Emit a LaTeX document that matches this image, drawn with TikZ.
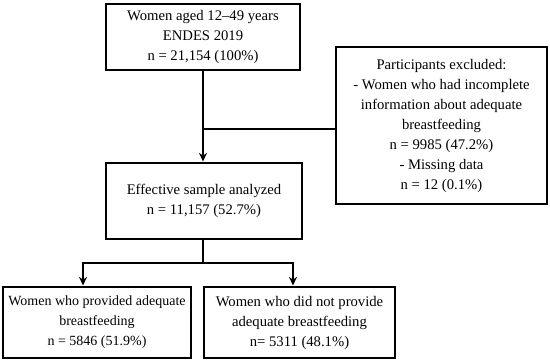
\documentclass[tikz,border=0pt]{standalone}
\usepackage{fontspec}
\setmainfont{Liberation Serif}
\usetikzlibrary{arrows.meta}

\begin{document}
\begin{tikzpicture}[x=0.75pt, y=-0.75pt, line width=1.5pt, >={Stealth[length=6.5pt, width=6pt]},
    box/.style={draw, line width=2.2pt, align=center, inner sep=0pt,
        font=\fontsize{11}{15}\selectfont}]
    \useasboundingbox (0,0) rectangle (550,361);
    \node[box, minimum width=145.5pt, minimum height=49.5pt] (total) at (203,37)
        {Women aged 12--49 years\\ENDES 2019\\n = 21,154 (100\%)};
    \node[box, minimum width=158.25pt, minimum height=117.75pt] (excluded) at (441.5,125.5)
        {Participants excluded:\\- Women who had incomplete\\information about adequate\\breastfeeding\\n = 9985 (47.2\%)\\- Missing data\\n = 12 (0.1\%)};
    \node[box, minimum width=147pt, minimum height=57pt] (sample) at (204,201)
        {Effective sample analyzed\\n = 11,157 (52.7\%)};
    \node[box, minimum width=141pt, minimum height=53.25pt, font=\fontsize{10.5}{15}\selectfont] (adequate) at (97,322.5)
        {Women who provided adequate\\breastfeeding\\n = 5846 (51.9\%)};
    \node[box, minimum width=143.25pt, minimum height=53.25pt] (notadequate) at (299.5,322.5)
        {Women who did not provide\\adequate breastfeeding\\n= 5311 (48.1\%)};
    \coordinate (junction) at (203,129);
    \coordinate (split) at (203,263);
    \draw[->] (total.south -| junction) -- (sample.north -| junction);
    \draw (junction) -- (junction -| excluded.west);
    \draw (sample.south -| split) -- (split);
    \draw[->] (split) -- (83,263) -- (adequate.north -| 83,0);
    \draw[->] (split) -- (293,263) -- (notadequate.north -| 293,0);
\end{tikzpicture}
\end{document}
